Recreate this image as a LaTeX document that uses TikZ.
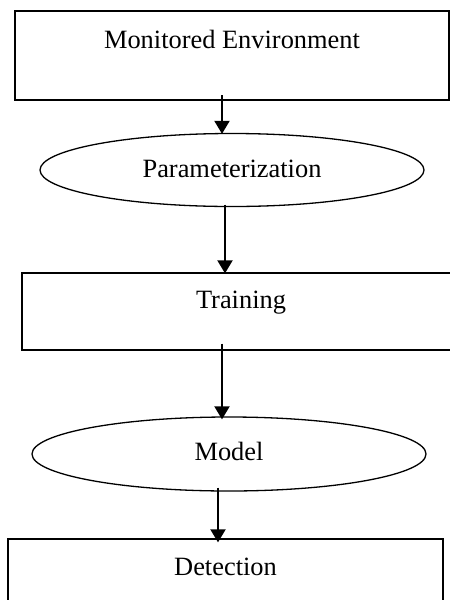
\documentclass[tikz,border=0pt]{standalone}
\usepackage{fontspec}
\setmainfont{Liberation Serif}
\usetikzlibrary{shapes.geometric,arrows.meta}
\tikzset{
  boxnode/.style={draw, rectangle, inner sep=0pt, line width=1.3pt, font=\fontsize{26.4}{30}\selectfont},
  ellnode/.style={draw, ellipse, inner sep=0pt, line width=1.3pt, font=\fontsize{26.4}{30}\selectfont},
  arr/.style={line width=2pt, -{Triangle[width=15pt,length=13pt]}}
}
\begin{document}
\begin{tikzpicture}[x=1pt,y=-1pt]
\useasboundingbox (0,0) rectangle (450,600);
\clip (0,0) rectangle (450,600);
\fill[white] (0,0) rectangle (450,600);
\node[boxnode, line width=2pt, anchor=base, minimum width=434pt, text height=37pt, text depth=52pt] (env) at (232,48) {Monitored Environment};
\node[ellnode, minimum width=384pt, minimum height=73pt, text height=14pt, text depth=0pt] (param) at (232,170) {Parameterization};
\node[boxnode, anchor=base, minimum width=438pt, text height=35pt, text depth=42pt] (train) at (241,308) {Training};
\node[ellnode, minimum width=394pt, minimum height=74pt, text height=12pt, text depth=0pt] (model) at (229,454) {Model};
\node[boxnode, anchor=base, minimum width=435pt, text height=36pt, text depth=45pt] (detect) at (225.5,575) {Detection};
\draw[arr] ([xshift=-10pt,yshift=6pt]env.south) -- ([xshift=-10pt,yshift=-1pt]param.north);
\draw[arr] ([xshift=-7pt,yshift=2.5pt]param.south) -- ([xshift=-16pt,yshift=-1pt]train.north);
\draw[arr] ([xshift=-19pt,yshift=7pt]train.south) -- ([xshift=-7pt,yshift=-3pt]model.north);
\draw[arr] ([xshift=-11pt,yshift=4pt]model.south) -- ([xshift=-7.5pt,yshift=-4pt]detect.north);
\end{tikzpicture}
\end{document}
